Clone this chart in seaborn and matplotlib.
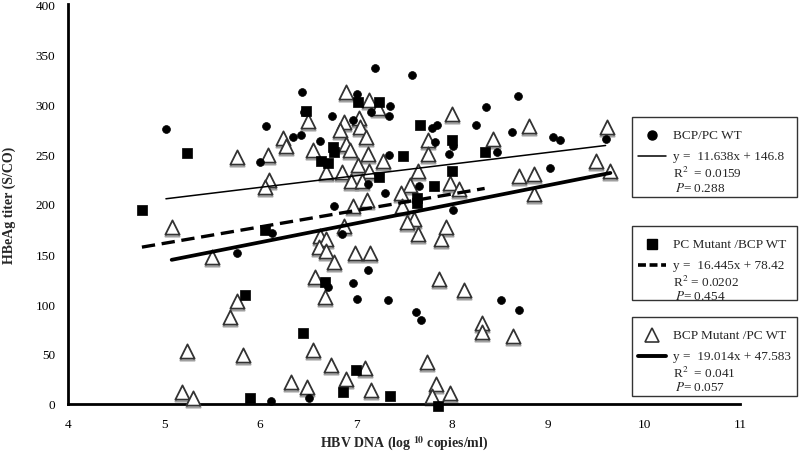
import numpy as np
import pandas as pd
import seaborn as sns
from matplotlib import pyplot as plt
from matplotlib import transforms
from matplotlib.patches import Rectangle
from matplotlib.lines import Line2D

# BCP/PC WT (filled circles)
wt_x = [5.02, 5.76, 6.12, 6.11, 6.51, 6.71, 6.85, 6.77, 7.12, 6.97, 7.01, 7.33, 7.63, 7.68,
        8.51, 8.70, 7.20, 7.58, 7.01, 7.35, 7.34, 7.16, 6.75, 6.97, 7.34, 7.13, 7.79, 7.84,
        8.35, 8.69, 8.25, 8.63, 8.01, 7.82, 9.05, 9.12, 8.47, 7.97, 9.02, 7.66, 7.30, 8.01,
        6.44, 6.46, 6.06, 6.34, 6.43, 6.63, 6.00, 9.60]
wt_y = [275, 151, 171, 3, 6, 117, 170, 198, 134, 121, 105, 104, 92, 84,
        104, 94, 336, 329, 310, 298, 288, 292, 288, 284, 249, 220, 276, 279,
        297, 308, 279, 272, 258, 262, 267, 264, 252, 250, 236, 218, 211, 194,
        312, 292, 278, 267, 269, 263, 242, 265]

# PC Mutant /BCP WT (filled squares)
pc_x = [4.77, 5.24, 6.05, 5.84, 6.45, 5.90, 6.68, 6.64, 6.71, 7.00, 6.86, 7.35, 7.85,
        7.02, 7.24, 6.48, 6.76, 6.77, 7.49, 7.24, 7.67, 8.00, 8.34, 8.00, 7.81, 7.64, 7.64]
pc_y = [194, 251, 174, 109, 71, 6, 122, 243, 241, 34, 12, 8, -2,
        302, 302, 293, 257, 252, 248, 227, 279, 264, 252, 233, 218, 206, 201]

# BCP Mutant /PC WT (open triangles)
bcp_x = [5.08, 5.50, 6.09, 6.05, 5.76, 5.69, 6.55, 5.24, 5.82, 6.32, 6.49, 5.19, 5.30,
         6.74, 6.57, 6.68, 6.63, 6.69, 6.61, 6.69, 6.69, 5.76, 6.87, 6.97, 7.11, 6.99,
         7.15, 6.77, 7.86, 8.12, 8.31, 8.31, 8.64, 7.74, 7.09, 6.90, 7.16, 7.83, 7.98,
         7.79, 7.89, 7.65, 6.90, 7.14, 7.23, 7.03, 6.87, 6.83, 7.04, 7.10, 6.90, 6.94,
         7.13, 7.28, 7.02, 7.14, 6.85, 6.95, 7.06, 8.00, 8.80, 7.75, 8.43, 7.75, 7.65,
         8.70, 8.85, 8.85, 7.98, 8.07, 7.56, 7.47, 7.48, 7.60, 7.53, 7.94, 6.50, 6.24,
         6.27, 6.55, 6.08, 9.61, 9.65, 9.50]
bcp_y = [177, 147, 224, 217, 103, 87, 54, 53, 49, 22, 17, 12, 6,
         39, 127, 107, 168, 165, 157, 153, 232, 247, 178, 198, 204, 151,
         151, 142, 125, 114, 81, 72, 68, 42, 36, 25, 14, 20, 11,
         8, 165, 170, 312, 304, 296, 286, 282, 274, 277, 267, 260, 254,
         250, 243, 239, 233, 232, 223, 223, 290, 278, 264, 265, 250, 233,
         228, 230, 210, 221, 215, 219, 211, 198, 185, 182, 177, 283, 266,
         258, 254, 249, 277, 233, 243]

# trendlines shown in the legend boxes
fits = {
    'wt': (11.638, 146.8),
    'pc': (16.445, 78.42),
    'bcp': (19.014, 47.583),
}

sns.set_style('white')
plt.rcParams['font.family'] = ['Liberation Serif', 'DejaVu Serif']
plt.rcParams['mathtext.fontset'] = 'stix'

W, H = 800, 460
fig = plt.figure(figsize=(W / 100, H / 100), dpi=100)
ax = fig.add_axes([68 / W, 55 / H, (740 - 68) / W, 400 / H])


def fpos(px, py):
    # pixel position -> figure fraction
    return px / W, 1 - py / H


# trendlines over each group's x range
for key, xs, lw, ls in [('wt', wt_x, 1.1, '-'), ('pc', pc_x, 2.4, (0, (4, 2))), ('bcp', bcp_x, 2.7, '-')]:
    m, b = fits[key]
    lx = np.array([min(xs), max(xs)])
    sns.lineplot(x=lx, y=m * lx + b, ax=ax, color='black', lw=lw, linestyle=ls, zorder=4)

# points
shadow = transforms.offset_copy(ax.transData, fig=fig, x=0, y=-2, units='dots')
sns.scatterplot(x=bcp_x, y=bcp_y, ax=ax, marker='^', s=105, color='white',
                edgecolor='#a0a0a0', linewidth=1.3, transform=shadow, zorder=2, clip_on=False)
sns.scatterplot(x=bcp_x, y=bcp_y, ax=ax, marker='^', s=105, color='white',
                edgecolor='#333333', linewidth=1.3, zorder=3, clip_on=False)
sns.scatterplot(x=wt_x, y=wt_y, ax=ax, marker='o', s=32, color='black',
                edgecolor='black', linewidth=0.5, zorder=3, clip_on=False)
sns.scatterplot(x=pc_x, y=pc_y, ax=ax, marker='s', s=42, color='black',
                edgecolor='black', linewidth=0.5, zorder=3, clip_on=False)

ax.set_xlim(4, 11)
ax.set_ylim(0, 400)
ax.set_xticks(range(4, 12))
ax.set_yticks(range(0, 401, 50))
for s in ['top', 'right']:
    ax.spines[s].set_visible(False)
for s in ['left', 'bottom']:
    ax.spines[s].set_linewidth(2)
    ax.spines[s].set_color('black')
ax.tick_params(direction='out', length=5, width=2, labelsize=9.5, colors='black', pad=4)
ax.tick_params(axis='x', pad=5)

ax.set_xlabel(r'HBV DNA (log $^{\mathbf{10}}$ copies/ml)', fontsize=10, fontweight='bold', labelpad=3)
ax.set_ylabel('HBeAg titer (S/CO)', fontsize=10, fontweight='bold', labelpad=14)

# legend boxes
boxes = [
    (118, 198, 'o', 'BCP/PC WT', r'y =  11.638x + 146.8', r'R$^{2}$  = 0.0159', '0.288',
     dict(lw=1.1, ls='-')),
    (227, 301, 's', 'PC Mutant /BCP WT', r'y =  16.445x + 78.42', r'R$^{2}$ = 0.0202', '0.454',
     dict(lw=2.6, ls=(0, (2.2, 1.0)))),
    (318, 397, '^', 'BCP Mutant /PC WT', r'y =  19.014x + 47.583', r'R$^{2}$  = 0.041', '0.057',
     dict(lw=2.8, ls='-')),
]
for top, bot, mk, name, eq, r2, p, lstyle in boxes:
    x0, y0 = fpos(632, bot)
    x1, y1 = fpos(797, top)
    fig.patches.append(Rectangle((x0, y0), x1 - x0, y1 - y0, transform=fig.transFigure,
                                 facecolor='white', edgecolor='#333333', lw=1.0, zorder=5))
    mx, my = fpos(652, top + 18)
    if mk == '^':
        fig.lines.append(Line2D([mx], [my], marker='^', ms=10, mfc='white', mec='#333333',
                                mew=1.2, transform=fig.transFigure, zorder=6))
    else:
        fig.lines.append(Line2D([mx], [my], marker=mk, ms=7 if mk == 's' else 6.5, mfc='black',
                                mec='black', transform=fig.transFigure, zorder=6))
    lx0, ly = fpos(638, top + 39)
    lx1, _ = fpos(666, top + 39)
    fig.lines.append(Line2D([lx0, lx1], [ly, ly], color='black', transform=fig.transFigure,
                            zorder=6, **lstyle))
    tx, _ = fpos(673, 0)
    fig.text(tx, fpos(0, top + 18)[1], name, fontsize=9.5, va='center', zorder=6)
    fig.text(tx, fpos(0, top + 39)[1], eq, fontsize=9.5, va='center', zorder=6)
    fig.text(tx, fpos(0, top + 55)[1], r2, fontsize=9.5, va='center', zorder=6)
    fig.text(tx + 0.002, fpos(0, top + 70)[1], r'$P$= ' + p, fontsize=9.5, va='center', zorder=6)

fig.savefig('out.png', dpi=100)
